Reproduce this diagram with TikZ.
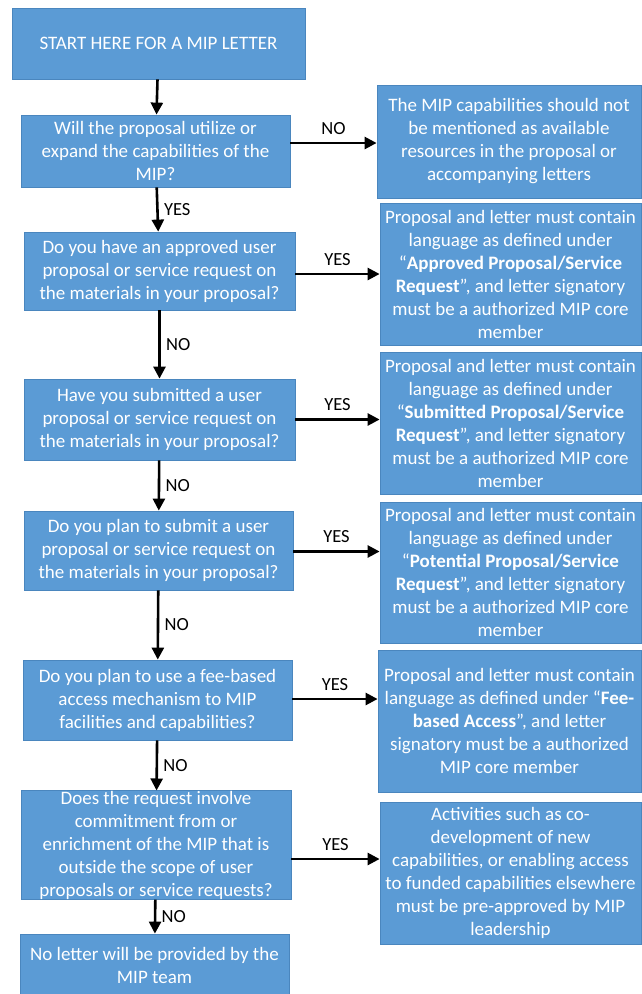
\documentclass[tikz,border=0pt]{standalone}
\usepackage{fontspec}
\setmainfont{Carlito}
\usetikzlibrary{arrows.meta}
\definecolor{boxblue}{HTML}{5B9BD5}
\definecolor{boxline}{HTML}{4A86BE}
\begin{document}
\begin{tikzpicture}[x=1pt,y=-1pt,
    box/.style={draw=boxline, line width=0.8pt, fill=boxblue, text=white, align=center, inner sep=0pt,
        font=\fontsize{19}{23}\selectfont},
    arr/.style={-{Triangle[length=12pt,width=12pt]}, line width=2.6pt},
    lbl/.style={font=\fontsize{18.5}{20}\selectfont}]
    \useasboundingbox (0,0) rectangle (641,994);

    % Question column
    \node[box, minimum width=293pt, minimum height=71pt] (start) at (158.5,43.5) {START HERE FOR A MIP LETTER};
    \node[box, minimum width=269pt, minimum height=72pt] (q1) at (155.5,151) {Will the proposal utilize or\\expand the capabilities of the\\MIP?};
    \node[box, minimum width=271pt, minimum height=78pt] (q2) at (159.5,271) {Do you have an approved user\\proposal or service request on\\the materials in your proposal?};
    \node[box, minimum width=271pt, minimum height=81pt] (q3) at (159.5,419.5) {Have you submitted a user\\proposal or service request on\\the materials in your proposal?};
    \node[box, minimum width=269pt, minimum height=79pt] (q4) at (158.5,550.5) {Do you plan to submit a user\\proposal or service request on\\the materials in your proposal?};
    \node[box, minimum width=269pt, minimum height=80pt] (q5) at (157.5,700) {Do you plan to use a fee-based\\access mechanism to MIP\\facilities and capabilities?};
    \node[box, minimum width=270pt, minimum height=108pt] (q6) at (156,845) {Does the request involve\\commitment from or\\enrichment of the MIP that is\\outside the scope of user\\proposals or service requests?};
    \node[box, minimum width=269pt, minimum height=62pt] (fin) at (154.5,965) {No letter will be provided by the\\MIP team};

    % Answer column
    \node[box, minimum width=264pt, minimum height=113pt] (r1) at (509,141.5) {The MIP capabilities should not\\be mentioned as available\\resources in the proposal or\\accompanying letters};
    \node[box, minimum width=261pt, minimum height=142pt] (r2) at (510.5,274) {Proposal and letter must contain\\language as defined under\\“\textbf{Approved Proposal/Service}\\\textbf{Request}”, and letter signatory\\must be a authorized MIP core\\member};
    \node[box, minimum width=261pt, minimum height=142pt] (r3) at (510.5,423) {Proposal and letter must contain\\language as defined under\\“\textbf{Submitted Proposal/Service}\\\textbf{Request}”, and letter signatory\\must be a authorized MIP core\\member};
    \node[box, minimum width=261pt, minimum height=141pt] (r4) at (510.5,572.5) {Proposal and letter must contain\\language as defined under\\“\textbf{Potential Proposal/Service}\\\textbf{Request}”, and letter signatory\\must be a authorized MIP core\\member};
    \node[box, minimum width=263pt, minimum height=142pt] (r5) at (509.5,721) {Proposal and letter must contain\\language as defined under “\textbf{Fee-}\\\textbf{based Access}”, and letter\\signatory must be a authorized\\MIP core member};
    \node[box, minimum width=261pt, minimum height=142pt] (r6) at (510.5,873) {Activities such as co-\\development of new\\capabilities, or enabling access\\to funded capabilities elsewhere\\must be pre-approved by MIP\\leadership};

    % Down arrows
    \draw[arr] (start) -- (q1);
    \draw[arr] (q1) -- (q2) node[lbl, midway, right=2pt] {YES};
    \draw[arr] (q2) -- (q3) node[lbl, midway, right=2pt] {NO};
    \draw[arr] (q3) -- (q4) node[lbl, midway, right=2pt] {NO};
    \draw[arr] (q4) -- (q5) node[lbl, midway, right=2pt] {NO};
    \draw[arr] (q5) -- (q6) node[lbl, midway, right=2pt] {NO};
    \draw[arr] (q6) -- (fin) node[lbl, midway, right=2pt] {NO};

    % Side arrows
    \draw[arr] (q1.east) ++(0,-8) coordinate (a1) -- (a1 -| r1.west) node[lbl, midway, above=4pt] {NO};
    \draw[arr] (q2.east) ++(0,3) coordinate (a2) -- (a2 -| r2.west) node[lbl, midway, above=4pt] {YES};
    \draw[arr] (q3.east) ++(0,0) coordinate (a3) -- (a3 -| r3.west) node[lbl, midway, above=4pt] {YES};
    \draw[arr] (q4.east) ++(0,1) coordinate (a4) -- (a4 -| r4.west) node[lbl, midway, above=4pt] {YES};
    \draw[arr] (q5.east) ++(0,-1) coordinate (a5) -- (a5 -| r5.west) node[lbl, midway, above=4pt] {YES};
    \draw[arr] (q6.east) ++(0,14) coordinate (a6) -- (a6 -| r6.west) node[lbl, midway, above=4pt] {YES};
\end{tikzpicture}
\end{document}
